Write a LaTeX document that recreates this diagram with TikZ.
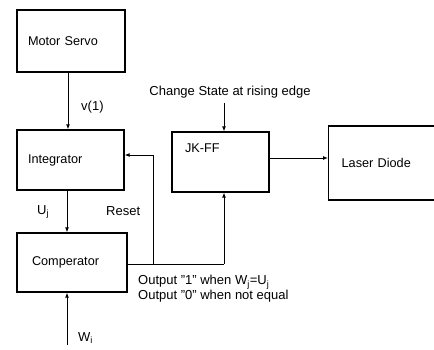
\documentclass[tikz,border=0pt]{standalone}
\usepackage{fontspec}
\setmainfont{Liberation Sans}
\usetikzlibrary{arrows.meta}
\begin{document}
\begin{tikzpicture}[x=1pt,y=-1pt,
  box/.style={draw,line width=1.3pt,align=left,inner xsep=11pt,inner ysep=0pt,font=\fontsize{12.7}{14}\selectfont},
  conn/.style={line width=0.9pt},
  arr/.style={conn,-{Latex[length=5pt,width=4pt]}},
  lbl/.style={inner sep=0pt,font=\fontsize{13}{15}\selectfont}]
\path[use as bounding box] (0,0) rectangle (434,350);
\clip (0,0) rectangle (434,350);
% boxes
\node[box,text width=86pt,minimum height=62pt] (motor) at (71,41) {Motor Servo};
\node[box,text width=85pt,minimum height=60pt] (integ) at (70.5,160) {Integrator};
\node[box,inner xsep=15pt,text width=80pt,minimum height=59pt] (comp) at (72,262.5) {Comperator};
\node[box,inner xsep=13pt,text width=71pt,minimum height=60pt,text depth=28pt] (jk) at (220.5,162) {JK-FF};
\node[box,inner xsep=13pt,text width=120pt,minimum height=74pt,anchor=west] (laser) at (328,163) {Laser Diode};
% coordinates
\coordinate (wi) at (67,345);
\coordinate (br) at (153,264);
\coordinate (jkin) at (224,264);
\coordinate (cs) at (224,103);
% connectors
\draw[arr] ([xshift=-3pt]motor.south) -- ([xshift=-3pt]motor.south |- integ.north);
\draw[arr] (67,0 |- integ.south) -- (67,0 |- comp.north);
\draw[arr] (wi) -- (wi |- comp.south);
\draw[conn] (comp.east |- br) -- (jkin);
\draw[arr] (jkin) -- (jkin |- jk.south);
\draw[arr] (br) -- (153,155) -- (integ.east |- 0,155);
\draw[arr] (cs) -- (cs |- jk.north);
\draw[arr] (jk.east |- 0,158) -- (laser.west |- 0,158);
% labels
\node[lbl,anchor=west] (lv) at (81,107) {v(1)};
\node[lbl,anchor=west] (lu) at (37,212) {U$_{\mathrm j}$};
\node[lbl,anchor=west] (lr) at (106,211) {Reset};
\node[lbl,anchor=west] (lw) at (78,338) {W$_{\mathrm i}$};
\node[lbl] (lcs) at (230,92) {Change State at rising edge};
\node[lbl,anchor=west,align=left] (lout) at (138,289) {Output "1" when W$_{\mathrm j}$=U$_{\mathrm j}$\\Output "0" when not equal};
\end{tikzpicture}
\end{document}
